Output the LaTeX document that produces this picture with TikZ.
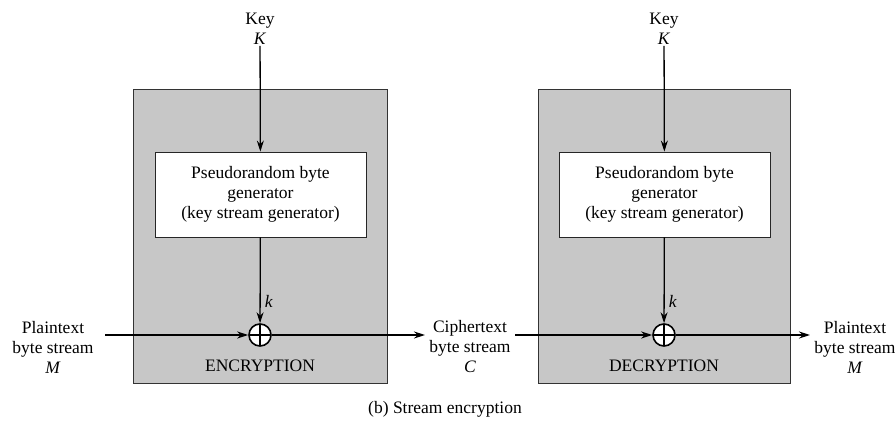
\documentclass[tikz,border=0pt]{standalone}
\usepackage{fontspec}
\setmainfont{Liberation Serif}
\usetikzlibrary{arrows.meta}
\begin{document}
\begin{tikzpicture}[x=1pt,y=-1pt,
  every node/.style={font=\fontsize{17.5}{20}\selectfont, align=center, inner sep=1pt},
  panel/.style={draw=black!80, fill=black!22, line width=0.8pt},
  genbox/.style={draw=black!85, fill=white, line width=0.8pt, minimum width=211pt, minimum height=85pt},
  flow/.style={line width=1.3pt, -{Stealth[length=11pt,width=7pt]}},
  xorop/.style={circle, draw, fill=white, line width=1.6pt, minimum size=22pt, inner sep=0pt,
    path picture={\draw[line width=1.6pt] (path picture bounding box.north) -- (path picture bounding box.south)
      (path picture bounding box.west) -- (path picture bounding box.east);}}]
\useasboundingbox (0,0) rectangle (895,428);

% encryption side
\draw[panel] (133,89) rectangle (387,383);
\node[genbox] (genL) at (260.5,194.5) {Pseudorandom byte\\generator\\(key stream generator)};
\node (keyL) at (260,29) {Key\\\textit{K}};
\node[xorop] (xorL) at (260,335) {};
\node at (260,366) {ENCRYPTION};
\node (ptin) at (53,347) {Plaintext\\byte stream\\\textit{M}};
\coordinate (inL) at (105,335);
\node (ct) at (470,347) {Ciphertext\\byte stream\\\textit{C}};
\coordinate (outL) at (425,335);
\coordinate (inR) at (515,335);

\draw[flow] (keyL) -- (genL);
\draw[flow] (genL) -- node[right=3pt, pos=0.75] {\textit{k}} (xorL);
\draw[flow] (inL) -- (xorL);
\draw[flow] (xorL) -- (outL);

% decryption side
\draw[panel] (538,89) rectangle (790,383);
\node[genbox] (genR) at (664.5,194.5) {Pseudorandom byte\\generator\\(key stream generator)};
\node (keyR) at (664,29) {Key\\\textit{K}};
\node[xorop] (xorR) at (664,335) {};
\node at (664,366) {DECRYPTION};
\node (ptout) at (855,347) {Plaintext\\byte stream\\\textit{M}};
\coordinate (outR) at (810,335);

\draw[flow] (keyR) -- (genR);
\draw[flow] (genR) -- node[right=3pt, pos=0.75] {\textit{k}} (xorR);
\draw[flow] (inR) -- (xorR);
\draw[flow] (xorR) -- (outR);

\node (cap) at (445,409) {(b) Stream encryption};
\end{tikzpicture}
\end{document}
